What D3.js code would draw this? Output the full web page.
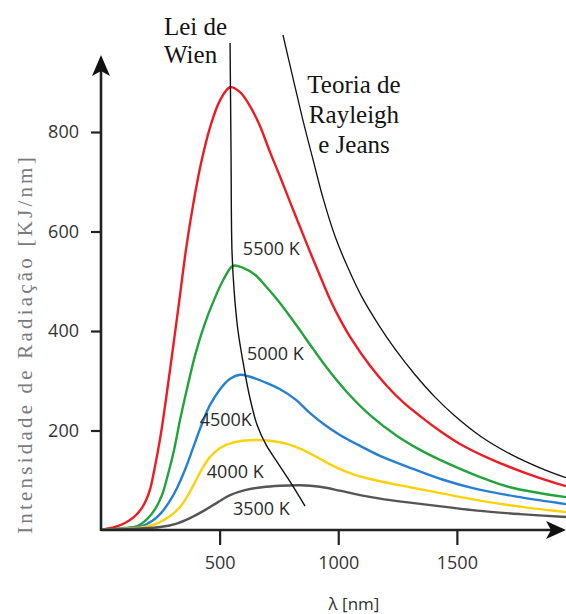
<!DOCTYPE html>
<html>
<head>
<meta charset="utf-8">
<script src="https://cdn.jsdelivr.net/npm/d3@7"></script>
<style>
  body { margin: 0; background: #fff; }
  svg { display: block; }
</style>
</head>
<body>
<svg id="planck" width="566" height="614"></svg>
<script>
// curvas de radiação do corpo negro, [lambda nm, intensidade]
const curve5500 = [[0,0],[59,6],[101,14],[143,28],[169,42],[190,60],[207,82],[223,117],[240,159],[257,207],[282,291],[308,382],[333,472],[358,563],[388,653],[422,738],[460,810],[502,864],[544,890],
  [586,880],[628,852],[670,812],[712,760],[755,710],[797,659],[839,609],[881,559],[923,511],[965,464],[1007,424],[1058,382],[1134,330],[1206,289],[1273,257],[1345,229],[1429,199],[1513,173],[1640,143],[1787,115],[1960,88]];
const curve5000 = [[0,0],[101,4],[152,8],[194,22],[228,42],[257,70],[282,111],[308,161],[333,221],[363,285],[396,350],[434,410],[476,462],[518,505],[556,531],
  [599,527],[649,513],[691,492],[755,456],[826,410],[894,364],[965,318],[1037,277],[1134,231],[1248,189],[1345,161],[1429,141],[1585,109],[1724,86],[1960,66]];
const curve4500 = [[0,0],[122,4],[173,8],[215,18],[253,34],[287,56],[320,84],[354,121],[388,165],[422,209],[459,251],[502,283],[544,304],[586,312],
  [628,308],[691,297],[755,283],[818,263],[881,235],[944,211],[1007,191],[1092,169],[1176,149],[1315,123],[1442,101],[1585,82],[1766,66],[1960,52]];
const curve4000 = [[0,0],[122,3],[185,6],[240,14],[291,28],[333,46],[367,70],[396,96],[426,123],[460,147],[502,165],[552,175],[607,180],[662,181],
  [721,179],[784,173],[851,161],[923,143],[995,125],[1071,111],[1176,98],[1302,86],[1442,73],[1610,58],[1766,47],[1960,36]];
const curve3500 = [[0,0],[164,3],[249,6],[312,12],[375,24],[438,40],[493,56],[544,70],[607,80],[679,86],[755,89],[839,90],
  [923,87],[1007,79],[1092,70],[1176,63],[1302,55],[1442,47],[1585,39],[1766,32],[1960,26]];

// Rayleigh-Jeans e lei de Wien
const rayleighJeans = [[767,995],[809,909],[851,824],[894,744],[936,667],[986,591],[1041,527],[1100,468],[1168,414],[1239,364],[1324,312],[1408,267],[1492,229],[1598,189],[1724,153],[1850,125],[1960,105]];
const wienLine = [[544,979],[548,764],[552,563],[561,482],[577,402],[603,326],[628,265],[658,211],[696,171],[742,137],[797,97],[860,48]];

const seriesNames = ["5500 K", "5000 K", "4500K", "4000 K", "3500 K"];
const xTicks = [500, 1000, 1500];
const yTicks = [200, 400, 600, 800];

const curves = [curve5500, curve5000, curve4500, curve4000, curve3500];
const colors = ["#ec1c24", "#22a33c", "#2680d2", "#fcd20a", "#555555"];
// onde fica o rótulo de cada curva (lambda, intensidade)
const labelAt = [[598,553],[615,342],[416,209],[446,105],[556,30]];

const svg = d3.select("#planck");

const x = d3.scaleLinear().domain([0, 1960]).range([101, 566]);
const y = d3.scaleLinear().domain([0, 800]).range([530, 132]);

svg.append("defs").append("clipPath").attr("id", "plot")
  .append("rect").attr("x", x(0)).attr("y", 0)
  .attr("width", 566 - x(0)).attr("height", y(0) - 1);

const line = d3.line()
  .x(d => x(d[0]))
  .y(d => y(d[1]))
  .curve(d3.curveCatmullRom.alpha(0.5));

const plot = svg.append("g").attr("clip-path", "url(#plot)");

plot.selectAll(".curve")
  .data(curves)
  .enter().append("path")
  .attr("class", "curve")
  .attr("d", line)
  .attr("fill", "none")
  .attr("stroke", (d, i) => colors[i])
  .attr("stroke-width", 2.4);

plot.append("path")
  .datum(rayleighJeans)
  .attr("d", line)
  .attr("fill", "none")
  .attr("stroke", "#111")
  .attr("stroke-width", 1.3);

svg.append("path")
  .datum(wienLine)
  .attr("d", line)
  .attr("fill", "none")
  .attr("stroke", "#111")
  .attr("stroke-width", 1.4);

// eixos
const xAxis = d3.axisBottom(x)
  .tickValues(xTicks)
  .tickFormat(d3.format("d"))
  .tickSize(15)
  .tickPadding(11);
const yAxis = d3.axisLeft(y)
  .tickValues(yTicks)
  .tickSize(10)
  .tickPadding(12);

svg.append("g")
  .attr("transform", "translate(0," + y(0) + ")")
  .call(xAxis)
  .call(g => g.select(".domain").remove());

svg.append("g")
  .attr("transform", "translate(" + x(0) + ",0)")
  .call(yAxis)
  .call(g => g.select(".domain").remove());

svg.selectAll(".tick line").attr("stroke", "#222").attr("stroke-width", 2.2);
svg.selectAll(".tick text")
  .style("font-family", "'Open Sans'")
  .style("font-size", "18px")
  .attr("fill", "#333");

// linhas dos eixos com setas
svg.append("line")
  .attr("x1", x(0)).attr("y1", y(0))
  .attr("x2", 555).attr("y2", y(0))
  .attr("stroke", "#222").attr("stroke-width", 2.6);
svg.append("line")
  .attr("x1", x(0)).attr("y1", y(0) + 1)
  .attr("x2", x(0)).attr("y2", 66)
  .attr("stroke", "#222").attr("stroke-width", 2.6);

const ox = x(0), oy = y(0);
svg.append("path")
  .attr("d", "M" + ox + ",55 L" + (ox + 9) + ",76 L" + ox + ",71 L" + (ox - 9) + ",76 Z")
  .attr("fill", "#111");
svg.append("path")
  .attr("d", "M566," + oy + " L546," + (oy - 9) + " L551," + oy + " L546," + (oy + 9) + " Z")
  .attr("fill", "#111");

// rótulos das temperaturas
svg.selectAll(".temp")
  .data(seriesNames)
  .enter().append("text")
  .attr("class", "temp")
  .attr("x", (d, i) => x(labelAt[i][0]))
  .attr("y", (d, i) => y(labelAt[i][1]))
  .style("font-family", "'Open Sans'")
  .style("font-size", "18px")
  .attr("fill", "#2a2a2a")
  .text(d => d);

// títulos em serifa
const serif = "'Liberation Serif', 'Times New Roman', serif";
const wien = svg.append("text")
  .style("font-family", serif).style("font-size", "25px").attr("fill", "#141414");
wien.append("tspan").attr("x", 164).attr("y", 35).text("Lei de");
wien.append("tspan").attr("x", 164).attr("y", 63).text("Wien");

const rj = svg.append("text")
  .attr("text-anchor", "middle")
  .style("font-family", serif).style("font-size", "25px").attr("fill", "#141414");
rj.append("tspan").attr("x", 354).attr("y", 93).text("Teoria de");
rj.append("tspan").attr("x", 354).attr("y", 123).text("Rayleigh");
rj.append("tspan").attr("x", 354).attr("y", 153).text("e Jeans");

// títulos dos eixos
svg.append("text")
  .attr("transform", "translate(32,344) rotate(-90)")
  .attr("text-anchor", "middle")
  .style("font-family", serif)
  .style("font-size", "21px")
  .style("letter-spacing", "3.2px")
  .attr("fill", "#7a7a7a")
  .text("Intensidade de Radiação [KJ/nm]");

svg.append("text")
  .attr("x", 354).attr("y", 610)
  .attr("text-anchor", "middle")
  .style("font-family", "'Open Sans'")
  .style("font-size", "17px")
  .attr("fill", "#333")
  .text("λ [nm]");
</script>
</body>
</html>
